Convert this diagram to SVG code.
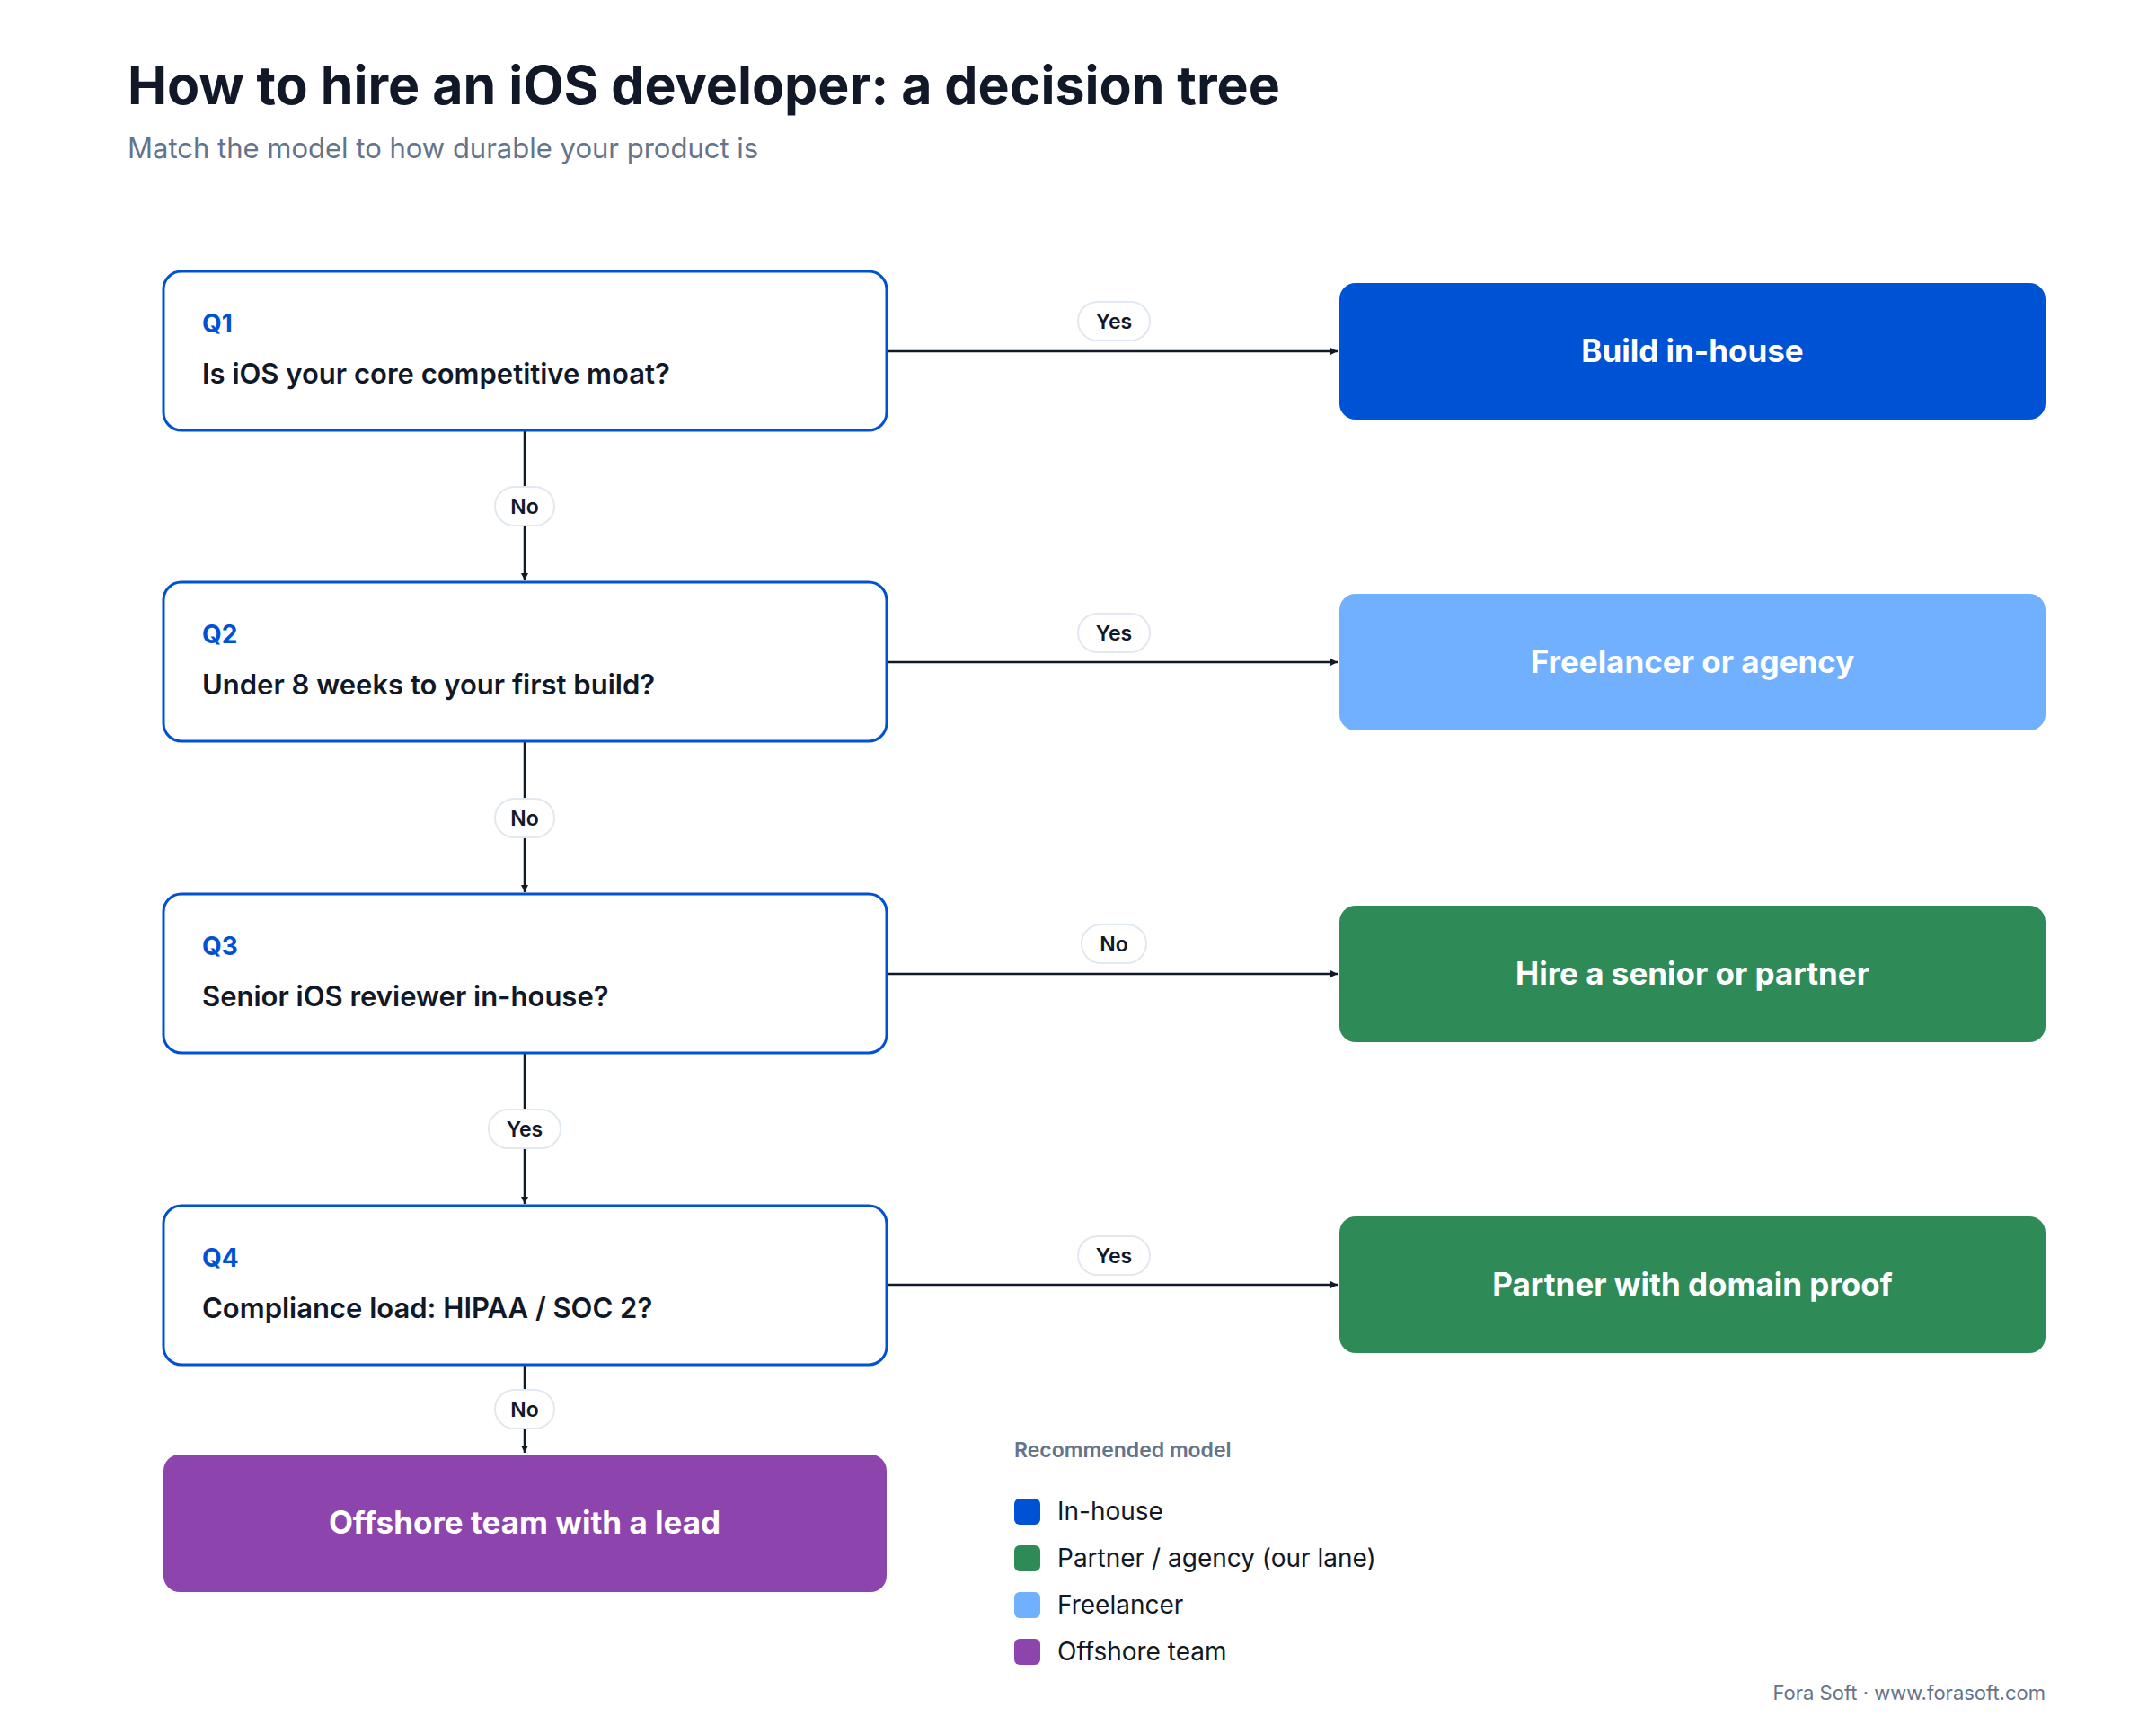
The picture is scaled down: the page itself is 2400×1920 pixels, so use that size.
<svg xmlns="http://www.w3.org/2000/svg" width="2400" height="1920" viewBox="0 0 2400 1920">
<style>
text{font-family:Inter,"Liberation Sans",sans-serif}
.q{fill:#fff;stroke:#0052d4;stroke-width:3}
.ql{fill:#0052d4;font-size:28px;font-weight:700}
.qt{fill:#111827;font-size:31px;font-weight:600}
.r{font-size:35px;font-weight:700;fill:#fff;text-anchor:middle}
.e{stroke:#111827;stroke-width:2.5;fill:none;marker-end:url(#a)}
.pill{fill:#fff;stroke:#e2e8f0;stroke-width:2}
.pl{font-size:23px;font-weight:600;fill:#111827;text-anchor:middle}
.lg{font-size:28px;fill:#111827}
</style>
<defs><marker id="a" viewBox="0 0 10 10" refX="10" refY="5" markerWidth="8" markerHeight="8" markerUnits="userSpaceOnUse" orient="auto"><path d="M0,0L10,5L0,10z" fill="#111827"/></marker></defs>
<rect width="2400" height="1920" fill="#fff"/>
<text x="142" y="116" font-size="59" font-weight="700" fill="#111827">How to hire an iOS developer: a decision tree</text>
<text x="142" y="176" font-size="31" fill="#64748b">Match the model to how durable your product is</text>
<g id="connectors">
<path class="e" d="M987 391H1489"/><path class="e" d="M987 737H1489"/><path class="e" d="M987 1084H1489"/><path class="e" d="M987 1430H1489"/>
<path class="e" d="M584 480V646"/><path class="e" d="M584 825V993"/><path class="e" d="M584 1172V1340"/><path class="e" d="M584 1519V1617"/>
<rect class="pill" x="1200" y="336" width="80" height="43" rx="21.5"/><text class="pl" x="1240" y="366">Yes</text>
<rect class="pill" x="1200" y="683" width="80" height="43" rx="21.5"/><text class="pl" x="1240" y="713">Yes</text>
<rect class="pill" x="1204" y="1029" width="72" height="43" rx="21.5"/><text class="pl" x="1240" y="1059">No</text>
<rect class="pill" x="1200" y="1376" width="80" height="43" rx="21.5"/><text class="pl" x="1240" y="1406">Yes</text>
<rect class="pill" x="551" y="542" width="66" height="43" rx="21.5"/><text class="pl" x="584" y="572">No</text>
<rect class="pill" x="551" y="889" width="66" height="43" rx="21.5"/><text class="pl" x="584" y="919">No</text>
<rect class="pill" x="544" y="1235" width="80" height="43" rx="21.5"/><text class="pl" x="584" y="1265">Yes</text>
<rect class="pill" x="551" y="1547" width="66" height="43" rx="21.5"/><text class="pl" x="584" y="1577">No</text>
</g>
<g id="q1"><rect class="q" x="182" y="302" width="805" height="177" rx="20"/><text class="ql" x="225" y="370">Q1</text><text class="qt" x="225" y="427">Is iOS your core competitive moat?</text></g>
<g id="q2"><rect class="q" x="182" y="648" width="805" height="177" rx="20"/><text class="ql" x="225" y="716">Q2</text><text class="qt" x="225" y="773">Under 8 weeks to your first build?</text></g>
<g id="q3"><rect class="q" x="182" y="995" width="805" height="177" rx="20"/><text class="ql" x="225" y="1063">Q3</text><text class="qt" x="225" y="1120">Senior iOS reviewer in-house?</text></g>
<g id="q4"><rect class="q" x="182" y="1342" width="805" height="177" rx="20"/><text class="ql" x="225" y="1410">Q4</text><text class="qt" x="225" y="1467">Compliance load: HIPAA / SOC 2?</text></g>
<g id="r1"><rect x="1491" y="315" width="786" height="152" rx="18" fill="#0052d4"/><text class="r" x="1884" y="403">Build in-house</text></g>
<g id="r2"><rect x="1491" y="661" width="786" height="152" rx="18" fill="#70b0ff"/><text class="r" x="1884" y="749">Freelancer or agency</text></g>
<g id="r3"><rect x="1491" y="1008" width="786" height="152" rx="18" fill="#2e8b57"/><text class="r" x="1884" y="1096">Hire a senior or partner</text></g>
<g id="r4"><rect x="1491" y="1354" width="786" height="152" rx="18" fill="#2e8b57"/><text class="r" x="1884" y="1442">Partner with domain proof</text></g>
<g id="r5"><rect x="182" y="1619" width="805" height="153" rx="18" fill="#8e44ad"/><text class="r" x="584" y="1707">Offshore team with a lead</text></g>
<g id="legend">
<text x="1129" y="1622" font-size="23" font-weight="600" fill="#64748b">Recommended model</text>
<rect x="1129" y="1668" width="29" height="29" rx="6" fill="#0052d4"/><text class="lg" x="1177" y="1692">In-house</text>
<rect x="1129" y="1720" width="29" height="29" rx="6" fill="#2e8b57"/><text class="lg" x="1177" y="1744">Partner / agency (our lane)</text>
<rect x="1129" y="1772" width="29" height="29" rx="6" fill="#70b0ff"/><text class="lg" x="1177" y="1796">Freelancer</text>
<rect x="1129" y="1824" width="29" height="29" rx="6" fill="#8e44ad"/><text class="lg" x="1177" y="1848">Offshore team</text>
</g>
<text x="2277" y="1892" font-size="22" fill="#64748b" text-anchor="end">Fora Soft · www.forasoft.com</text>
</svg>
